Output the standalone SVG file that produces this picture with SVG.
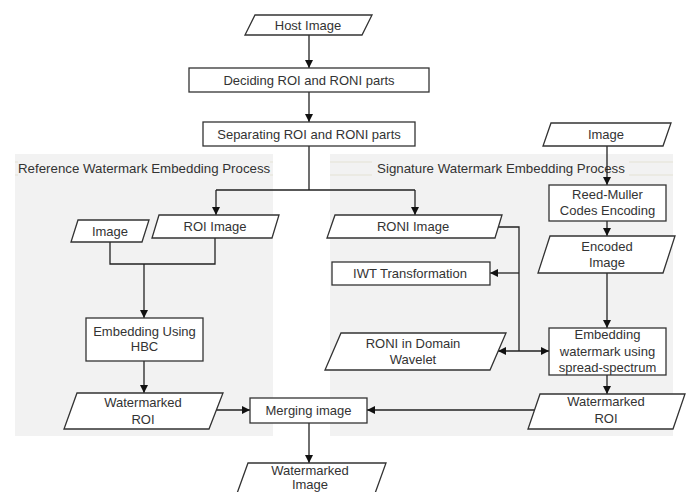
<svg xmlns="http://www.w3.org/2000/svg" width="686" height="492" viewBox="0 0 686 492">
<defs>
<style>
.panel{fill:#f2f2f2;stroke:none}
.band{stroke:#e4e2d4;stroke-width:1;fill:none}
.n{fill:#ffffff;stroke:#333333;stroke-width:1.3}
.t{font-family:"Liberation Sans",Arial,sans-serif;font-size:13px;fill:#333333;text-anchor:middle}
.title{font-family:"Liberation Sans",Arial,sans-serif;font-size:13.3px;fill:#333333}
.c{fill:none;stroke:#222222;stroke-width:1.3}
.a{marker-end:url(#ah)}
.b{marker-end:url(#ah);marker-start:url(#ah)}
</style>
<marker id="ah" markerUnits="userSpaceOnUse" markerWidth="9" markerHeight="9" refX="8" refY="4" orient="auto-start-reverse" viewBox="0 0 9 8">
<path d="M0,0 L8,4 L0,8 z" fill="#111111"/>
</marker>
</defs>
<rect width="686" height="492" fill="#ffffff"/>

<g id="panel-reference">
<rect class="panel" x="15" y="154" width="258" height="282"/>
<line class="band" x1="15" y1="162" x2="18" y2="162"/>
<line class="band" x1="15" y1="175" x2="18" y2="175"/>
<line class="band" x1="270" y1="162" x2="273" y2="162"/>
<line class="band" x1="270" y1="175" x2="273" y2="175"/>
<text class="title" x="18" y="173">Reference Watermark Embedding Process</text>
</g>

<g id="panel-signature">
<rect class="panel" x="330" y="154" width="343" height="282"/>
<line class="band" x1="330" y1="162" x2="372" y2="162"/>
<line class="band" x1="330" y1="175" x2="372" y2="175"/>
<line class="band" x1="629" y1="162" x2="673" y2="162"/>
<line class="band" x1="629" y1="175" x2="673" y2="175"/>
<text class="title" x="501" y="173" text-anchor="middle">Signature Watermark Embedding Process</text>
</g>

<g id="connectors">
<path class="c a" d="M309,35 V68"/>
<path class="c a" d="M309,92 V122"/>
<path class="c" d="M309,146 V190 M216,190 H415"/>
<path class="c a" d="M216,190 V215"/>
<path class="c a" d="M415,190 V215"/>
<path class="c" d="M110,242 V264 H215 V238"/>
<path class="c a" d="M144,264 V318"/>
<path class="c a" d="M144,361 V393"/>
<path class="c a" d="M216,410 H250"/>
<path class="c a" d="M309,423 V463"/>
<path class="c a" d="M607,146 V185"/>
<path class="c a" d="M607,221 V236"/>
<path class="c a" d="M607,273 V328"/>
<path class="c a" d="M607,375 V394"/>
<path class="c a" d="M535,410 H367"/>
<path class="c" d="M498,227 H519 V351"/>
<path class="c a" d="M519,273 H490"/>
<path class="c b" d="M498,351 H549"/>
</g>

<g id="host-image">
<polygon class="n" points="255,15 372,15 362,35 245,35"/>
<text class="t" x="308" y="29.5">Host Image</text>
</g>
<g id="deciding">
<rect class="n" x="189" y="68" width="240" height="24"/>
<text class="t" x="309" y="84.5">Deciding ROI and RONI parts</text>
</g>
<g id="separating">
<rect class="n" x="203" y="122" width="212" height="24"/>
<text class="t" x="309" y="138.5">Separating ROI and RONI parts</text>
</g>
<g id="image-left">
<polygon class="n" points="78,220 149,220 142,242 71,242"/>
<text class="t" x="110" y="235.5">Image</text>
</g>
<g id="roi-image">
<polygon class="n" points="159,215 279,215 272,238 152,238"/>
<text class="t" x="215" y="231">ROI Image</text>
</g>
<g id="embedding-hbc">
<rect class="n" x="86" y="318" width="117" height="43"/>
<text class="t" x="144.5" y="335.5">Embedding Using</text>
<text class="t" x="144.5" y="351">HBC</text>
</g>
<g id="watermarked-roi-left">
<polygon class="n" points="77,393 223,393 209,429 64,429"/>
<text class="t" x="143" y="407">Watermarked</text>
<text class="t" x="143" y="423.5">ROI</text>
</g>
<g id="merging">
<rect class="n" x="250" y="398" width="117" height="25"/>
<text class="t" x="308.5" y="415">Merging image</text>
</g>
<g id="watermarked-image">
<polygon class="n" points="248,463 386,463 373,499 235,499"/>
<text class="t" x="310" y="475">Watermarked</text>
<text class="t" x="310" y="488.5">Image</text>
</g>
<g id="image-right">
<polygon class="n" points="551,123 671,123 663,146 543,146"/>
<text class="t" x="606" y="139">Image</text>
</g>
<g id="reed-muller">
<rect class="n" x="549" y="185" width="117" height="36"/>
<text class="t" x="607.5" y="198.5">Reed-Muller</text>
<text class="t" x="607.5" y="215">Codes Encoding</text>
</g>
<g id="encoded-image">
<polygon class="n" points="550,236 675,236 663,273 538,273"/>
<text class="t" x="607" y="251">Encoded</text>
<text class="t" x="607" y="267">Image</text>
</g>
<g id="embedding-ss">
<rect class="n" x="549" y="328" width="117" height="47"/>
<text class="t" x="607.5" y="339">Embedding</text>
<text class="t" x="607.5" y="355.5">watermark using</text>
<text class="t" x="607.5" y="371.5">spread-spectrum</text>
</g>
<g id="watermarked-roi-right">
<polygon class="n" points="540,394 685,394 673,429 528,429"/>
<text class="t" x="606" y="406">Watermarked</text>
<text class="t" x="606" y="422.5">ROI</text>
</g>
<g id="roni-image">
<polygon class="n" points="335,215 502,215 495,238 327,238"/>
<text class="t" x="413" y="231">RONI Image</text>
</g>
<g id="iwt">
<rect class="n" x="332" y="262" width="158" height="23"/>
<text class="t" x="410" y="278">IWT Transformation</text>
</g>
<g id="roni-wavelet">
<polygon class="n" points="341,333 506,333 490,370 325,370"/>
<text class="t" x="413" y="348">RONI in Domain</text>
<text class="t" x="413" y="364">Wavelet</text>
</g>
</svg>
